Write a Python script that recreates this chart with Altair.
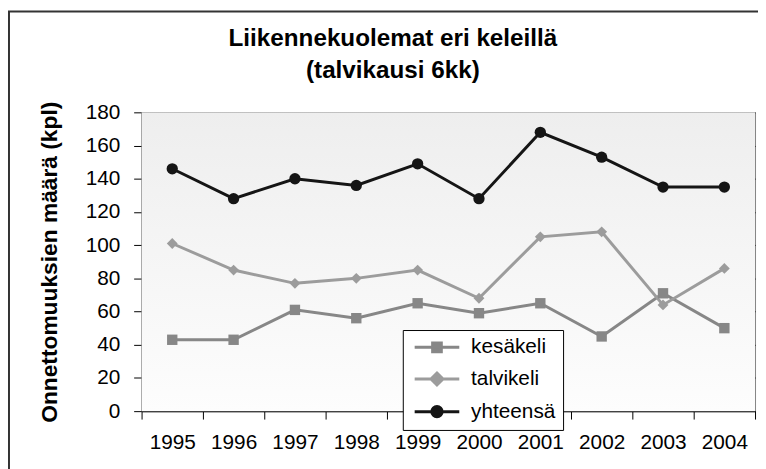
import altair as alt
import pandas as pd

years = ["1995", "1996", "1997", "1998", "1999", "2000", "2001", "2002", "2003", "2004"]
series = ["kesäkeli", "talvikeli", "yhteensä"]
kesakeli = [43, 43, 61, 56, 65, 59, 65, 45, 71, 50]
talvikeli = [101, 85, 77, 80, 85, 68, 105, 108, 64, 86]
yhteensa = [146, 128, 140, 136, 149, 128, 168, 153, 135, 135]
y_ticks = [0, 20, 40, 60, 80, 100, 120, 140, 160, 180]

colors = ["#878787", "#9c9c9c", "#151515"]
shapes = ["square", "diamond", "circle"]
sizes = [110, 130, 150]
legend_paths = [
    "M-1,0H7.2M2.3,-0.8H3.9V0.8H2.3Z",
    "M-1,0H7.2M3.1,-1.1L4.2,0L3.1,1.1L2,0Z",
    "M-1,0H7.2M2.15,0A0.95,0.95 0 1,1 4.05,0A0.95,0.95 0 1,1 2.15,0Z",
]

rows = []
for name, vals in zip(series, [kesakeli, talvikeli, yhteensa]):
    for yr, v in zip(years, vals):
        rows.append({"vuosi": yr, "sarja": name, "arvo": v})
df = pd.DataFrame(rows)

W, H = 620, 302
FONT = "Liberation Sans"

x_enc = alt.X(
    "vuosi:N",
    sort=years,
    bandPosition=0.5,
    scale=alt.Scale(type="band", paddingInner=0, paddingOuter=0),
    axis=alt.Axis(
        title=None, labelAngle=0, tickBand="extent", tickSize=8, grid=False,
        labelFontSize=21, labelFont=FONT, labelColor="black", labelPadding=13,
        domainColor="black", tickColor="black", domainWidth=1, tickWidth=1,
    ),
)
y_enc = alt.Y(
    "arvo:Q",
    scale=alt.Scale(domain=[0, 180], nice=False),
    axis=alt.Axis(
        title="Onnettomuuksien määrä (kpl)", values=y_ticks, tickSize=8,
        labelFontSize=21, labelFont=FONT, labelColor="black", labelPadding=14,
        domainColor="black", tickColor="black", gridColor="black", gridWidth=1,
        titleFontSize=23, titleFont=FONT, titleFontWeight="bold", titleColor="black",
        titleAngle=270, titleBaseline="alphabetic", titleAlign="center",
        titleX=-85.5, titleY=H / 2,
    ),
)

base = alt.Chart(df)

bg = alt.Chart(pd.DataFrame({"k": [0]})).mark_rect(
    color=alt.Gradient(
        gradient="linear",
        stops=[alt.GradientStop(color="#eeeeee", offset=0), alt.GradientStop(color="#fdfdfd", offset=1)],
        x1=0, x2=0, y1=0, y2=1,
    )
).encode(x=alt.value(0), x2=alt.value(W), y=alt.value(0), y2=alt.value(H))

frame = alt.Chart(pd.DataFrame({"k": [0]})).mark_rect(
    fill="transparent", stroke="#333333", strokeWidth=2
).encode(x=alt.value(-134), x2=alt.value(700), y=alt.value(-102), y2=alt.value(500))

lines = base.mark_line(strokeWidth=3).encode(
    x=x_enc, y=y_enc,
    color=alt.Color("sarja:N", scale=alt.Scale(domain=series, range=colors), legend=None),
)

points = base.mark_point(filled=True, opacity=1).encode(
    x=x_enc, y=y_enc,
    color=alt.Color("sarja:N", scale=alt.Scale(domain=series, range=colors), legend=None),
    shape=alt.Shape("sarja:N", scale=alt.Scale(domain=series, range=shapes), legend=None),
    size=alt.Size("sarja:N", scale=alt.Scale(domain=series, range=sizes), legend=None),
)

leg = alt.Legend(
    title=None, orient="none", legendX=264, legendY=220,
    fillColor="white", strokeColor="black", padding=7,
    symbolSize=121, symbolStrokeWidth=3, symbolOpacity=1,
    labelFontSize=21, labelFont=FONT, labelColor="black", labelOffset=41,
    rowPadding=9,
)

legend_layer = base.mark_point(filled=True, opacity=0).encode(
    x=x_enc, y=y_enc,
    fill=alt.Fill("sarja:N", scale=alt.Scale(domain=series, range=colors), legend=leg),
    stroke=alt.Stroke("sarja:N", scale=alt.Scale(domain=series, range=colors), legend=leg),
    shape=alt.Shape("sarja:N", scale=alt.Scale(domain=series, range=legend_paths), legend=leg),
)

chart = alt.layer(bg, frame, lines, points, legend_layer).resolve_scale(
    shape="independent", color="independent", fill="independent", stroke="independent"
).properties(
    width=W, height=H,
    title=alt.Title(
        ["Liikennekuolemat eri keleillä", "(talvikausi 6kk)"],
        fontSize=24.5, font=FONT, fontWeight="bold", color="black",
        lineHeight=33, anchor="middle", dx=-56, dy=78,
    ),
    padding={"left": 135, "top": 103, "right": 3, "bottom": 56},
    autosize=alt.AutoSizeParams(type="none"),
    background="white",
).configure_view(stroke="#808080", strokeWidth=1)

chart.save("out.html", embed_options={"renderer": "svg", "actions": False})
